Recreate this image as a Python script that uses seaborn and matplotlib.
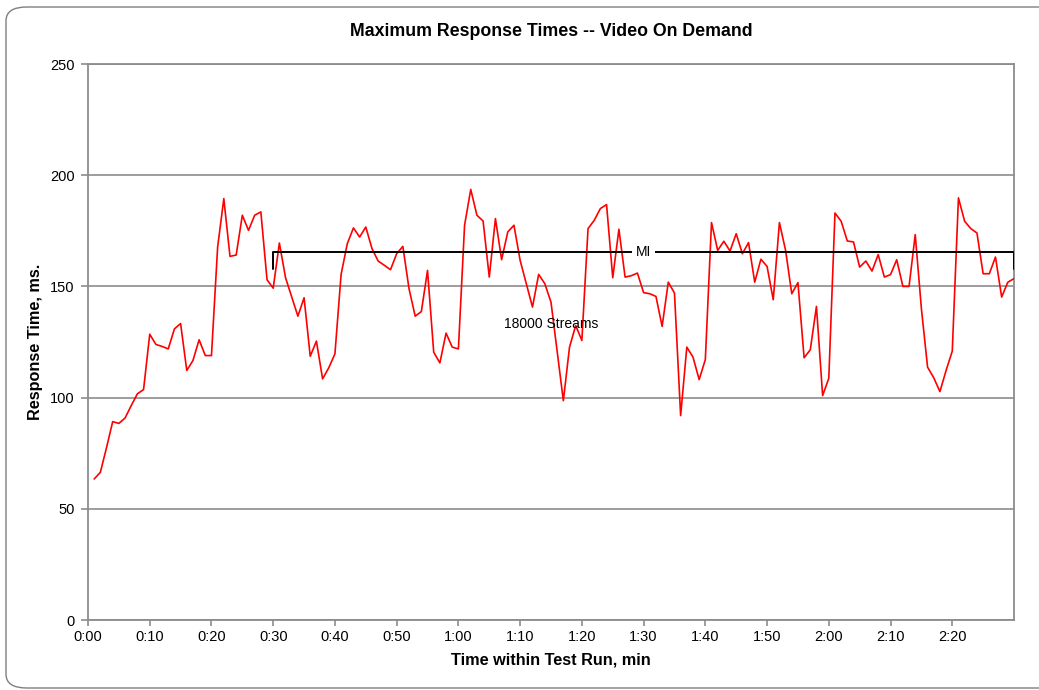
import matplotlib
matplotlib.use("Agg")
import matplotlib.pyplot as plt
from matplotlib.patches import FancyBboxPatch
import seaborn as sns
import pandas as pd

# Maximum response time per minute of the test run (ms)
minutes = list(range(1, 151))
response_ms = [
    63.4, 66.4, 77.5, 89.2, 88.4, 90.8, 96.4, 101.7, 103.6, 128.5,
    123.9, 123.0, 121.9, 130.9, 133.3, 112.2, 116.7, 126.0, 118.9, 118.9,
    167.7, 189.5, 163.5, 164.1, 182.0, 175.2, 182.0, 183.5, 153.0, 149.2,
    169.5, 153.9, 145.2, 136.6, 144.9, 118.6, 125.4, 108.4, 113.4, 119.7,
    155.4, 169.2, 176.3, 172.2, 176.7, 167.0, 161.4, 159.5, 157.5, 164.7,
    168.0, 149.0, 136.6, 138.7, 157.2, 120.4, 115.6, 129.0, 122.7, 121.9,
    177.5, 193.6, 182.0, 179.4, 154.2, 180.5, 162.0, 174.5, 177.5, 161.7,
    151.2, 140.7, 155.4, 151.2, 142.9, 120.9, 98.6, 122.7, 132.4, 125.7,
    176.0, 179.7, 185.0, 186.8, 153.9, 175.7, 154.2, 154.8, 156.0, 147.2,
    146.7, 145.5, 132.0, 151.9, 147.0, 91.9, 122.7, 118.2, 108.1, 117.1,
    178.7, 166.2, 170.3, 165.9, 173.7, 164.7, 169.7, 151.9, 162.2, 159.0,
    144.0, 178.7, 166.2, 146.7, 151.7, 117.9, 121.5, 141.0, 100.9, 108.7,
    183.0, 179.3, 170.4, 170.0, 158.7, 161.4, 156.9, 164.3, 154.2, 155.3,
    162.0, 150.0, 150.0, 173.3, 140.0, 113.7, 108.9, 102.7, 112.2, 120.9,
    189.8, 179.3, 176.0, 174.0, 155.7, 155.7, 163.2, 145.2, 151.9, 153.5,
]

# Measurement interval bracket
mi_start, mi_end = 30, 150
mi_level, mi_tick_bottom = 165.5, 158.0
mi_label = "MI"
streams_label = "18000 Streams"
streams_pos = (75, 133)

x_ticks = list(range(0, 150, 10))
x_tick_labels = [f"{t // 60}:{t % 60:02d}" for t in x_ticks]
y_ticks = [0, 50, 100, 150, 200, 250]

df = pd.DataFrame({"minute": minutes, "response": response_ms})

sns.set_style("white")
plt.rcParams["font.family"] = ["Liberation Sans", "DejaVu Sans"]
plt.rcParams["text.color"] = "black"
plt.rcParams["axes.labelcolor"] = "black"

fig = plt.figure(figsize=(10.39, 6.9), dpi=100)
W, H = 1039, 690

# rounded chart-area border
border = FancyBboxPatch((6 / W, 2 / H), 1.2, 681 / H,
                        boxstyle="round,pad=0,rounding_size=0.02",
                        transform=fig.transFigure, facecolor="none",
                        edgecolor="#7f7f7f", linewidth=1.0, zorder=5)
fig.patches.append(border)

ax = fig.add_axes([88 / W, (H - 620) / H, 926 / W, 556 / H])
ax.set_facecolor("white")

sns.lineplot(data=df, x="minute", y="response", ax=ax, color="#ff0000",
             linewidth=1.2, zorder=3)

# bracket showing the measurement interval
ax.plot([mi_start, mi_start, mi_end, mi_end],
        [mi_tick_bottom, mi_level, mi_level, mi_tick_bottom],
        color="black", linewidth=1.4, zorder=4)
ax.text((mi_start + mi_end) / 2, mi_level, mi_label, ha="center", va="center",
        fontsize=10, color="black", zorder=5,
        bbox=dict(facecolor="white", edgecolor="none", pad=2.5))
ax.text(*streams_pos, streams_label, ha="center", va="center", fontsize=10,
        color="black", zorder=5)

ax.set_xlim(0, 150)
ax.set_ylim(0, 250)
ax.set_xticks(x_ticks)
ax.set_xticklabels(x_tick_labels)
ax.set_yticks(y_ticks)
ax.yaxis.grid(True, color="#8c8c8c", linewidth=1.2)
ax.xaxis.grid(False)
ax.set_axisbelow(True)
for s in ax.spines.values():
    s.set_color("#8c8c8c")
    s.set_linewidth(1.3)
ax.tick_params(axis="both", direction="out", width=1.2,
               color="#8c8c8c", labelsize=10.5, labelcolor="black",
               left=True, bottom=True)
ax.tick_params(axis="y", length=5, pad=4.5)
ax.tick_params(axis="x", length=4, pad=3)

ax.set_title("Maximum Response Times -- Video On Demand", fontsize=12.8,
             fontweight="bold", color="black", pad=20)
ax.set_xlabel("Time within Test Run, min", fontsize=11.7, fontweight="bold",
              color="black", labelpad=6.5)
ax.set_ylabel("Response Time, ms.", fontsize=11.7, fontweight="bold",
              color="black", labelpad=5)

fig.savefig("out.png", dpi=100)
